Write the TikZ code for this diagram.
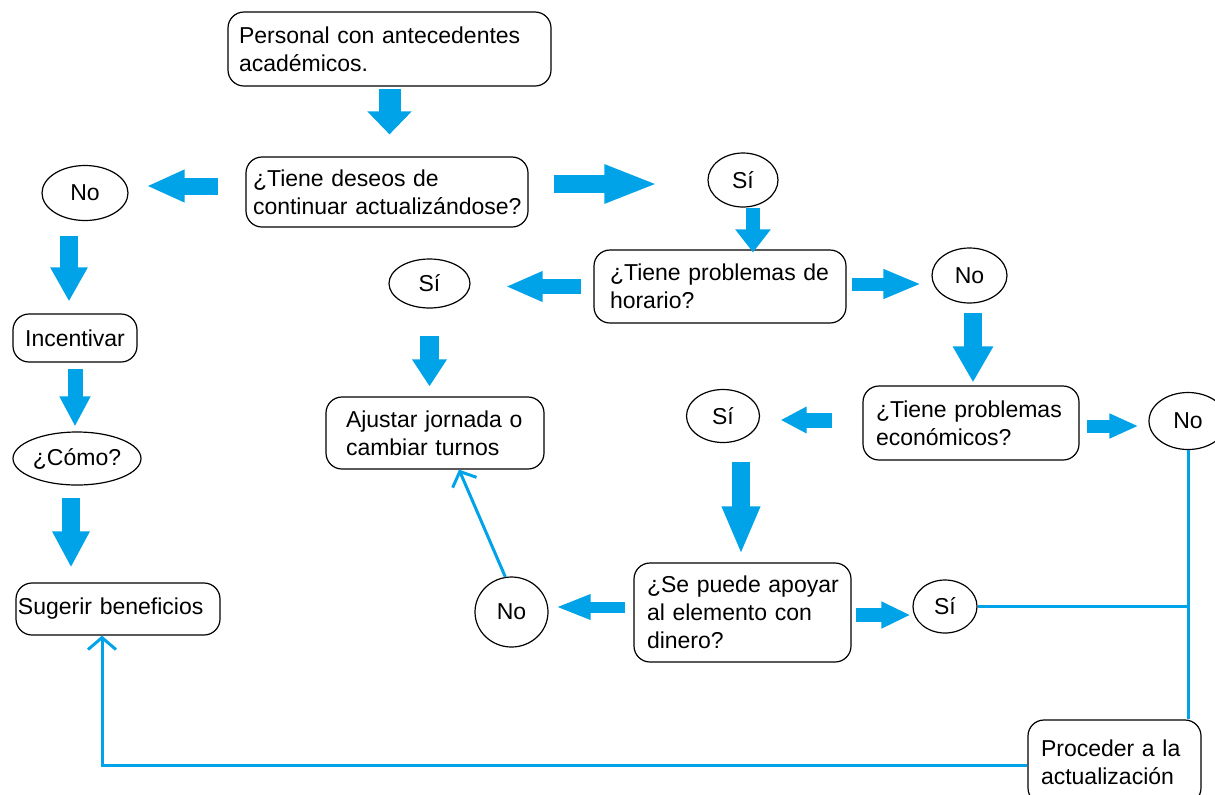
\documentclass[tikz,border=0pt]{standalone}
\usepackage{fontspec}
\setmainfont{Liberation Sans}
\usetikzlibrary{arrows.meta,shapes.geometric}
\definecolor{paintblue}{RGB}{0,162,232}
\hyphenpenalty=10000
\exhyphenpenalty=10000

\begin{document}
\begin{tikzpicture}[x=0.5pt,y=-0.5pt,
    every node/.style={font=\fontsize{11.5}{14}\selectfont},
    box/.style={draw, line width=0.6pt, rounded corners=8pt, align=left},
    oval/.style={draw, line width=0.6pt, ellipse, inner sep=0pt},
    blk/.style n args={3}{draw=paintblue, line width=#1, -{Triangle[width=#2,length=#3]}},
    lnk/.style={draw=paintblue, line width=1.5pt}]
    \useasboundingbox (0,0) rectangle (1215,794);

    \node[box, inner xsep=5.5pt, text width=150.5pt, minimum height=37pt] (ini) at (389.5,49) {Personal con antecedentes\\académicos.};
    \node[box, inner xsep=3.5pt, text width=134pt, minimum height=35pt] (q1) at (387,192) {¿Tiene deseos de\\\mbox{continuar actualizándose?}};
    \node[box, inner xsep=8pt, text width=110pt, minimum height=36.5pt] (q2) at (720,286.5) {¿Tiene problemas de\\horario?};
    \node[box, inner xsep=10pt, text width=89pt, minimum height=36pt] (aju) at (435,433) {Ajustar jornada o\\cambiar turnos};
    \node[box, inner xsep=6.5pt, text width=95pt, minimum height=37pt] (q3) at (971,423) {¿Tiene problemas\\económicos?};
    \node[box, inner xsep=6.5pt, text width=95.5pt, minimum height=49.5pt] (q4) at (742.5,612.5) {\mbox{¿Se puede apoyar}\\al elemento con\\dinero?};
    \node[box, inner xsep=6.5pt, text width=73.5pt, minimum height=42pt] (fin) at (1114.5,762) {Proceder a la\\actualización};
    \node[box, align=center, minimum width=62pt, minimum height=24pt] (inc) at (75,338) {Incentivar};
    \node[box, inner xsep=1pt, text width=100pt, minimum height=26pt] (sug) at (118,609) {Sugerir beneficios};

    \node[oval, minimum width=43pt, minimum height=27.5pt] (no1) at (85,193) {No};
    \node[oval, minimum width=35pt, minimum height=27pt] (si1) at (743,180) {Sí};
    \node[oval, minimum width=40.5pt, minimum height=24.5pt] (si2) at (429.5,283.5) {Sí};
    \node[oval, minimum width=37.5pt, minimum height=27.5pt] (no2) at (969.5,275.5) {No};
    \node[oval, minimum width=36.5pt, minimum height=26.5pt] (si3) at (723,416) {Sí};
    \node[oval, minimum width=39pt, minimum height=28.5pt] (no3) at (1188,421) {No};
    \node[oval, minimum width=64pt, minimum height=26.5pt] (como) at (77,458.5) {¿Cómo?};
    \node[oval, minimum width=36.5pt, minimum height=35pt] (no4) at (511.5,612) {No};
    \node[oval, minimum width=32pt, minimum height=26.5pt] (si4) at (945,606.5) {Sí};

    \coordinate (jn) at (no3.south |- si4.east);

    \draw[blk={11pt}{21.5pt}{11.5pt}, shorten <=1pt, shorten >=11pt] (ini.south) -- (ini.south |- q1.north);
    \draw[blk={8.5pt}{15pt}{19pt}, shorten <=13.5pt, shorten >=9pt] ([yshift=3pt]q1.west) -- ([yshift=3pt]q1.west -| no1.east);
    \draw[blk={9pt}{17.5pt}{27pt}, shorten <=12.5pt, shorten >=24.5pt] ([yshift=4pt]q1.east) -- ([yshift=4pt]q1.east -| si1.west);
    \draw[blk={7pt}{17pt}{11.5pt}, shorten >=-1.5pt] ([xshift=5pt]si1.south) -- ([xshift=5pt]si1.south |- q2.north);
    \draw[blk={7.5pt}{14pt}{18.5pt}, shorten <=6pt, shorten >=17.5pt] (q2.west) -- (q2.west -| si2.east);
    \draw[blk={9.5pt}{16.5pt}{13.5pt}, shorten <=13.5pt, shorten >=5pt] (si2.south) -- (si2.south |- aju.north);
    \draw[blk={6.5pt}{13.5pt}{19pt}, shorten <=2.5pt, shorten >=5pt] ([yshift=1.25pt]q2.east) -- ([yshift=1.25pt]q2.east -| no2.west);
    \draw[blk={9pt}{19pt}{18pt}, shorten <=4.5pt, shorten >=1.5pt] ([xshift=1.75pt]no2.south) -- ([xshift=1.75pt]no2.south |- q3.north);
    \draw[blk={7.5pt}{12.5pt}{13pt}, shorten <=15pt, shorten >=10.25pt] ([yshift=1.5pt]q3.west) -- ([yshift=1.5pt]q3.west -| si3.east);
    \draw[blk={6.5pt}{11.5pt}{14.5pt}, shorten <=3.5pt, shorten >=5pt] ([yshift=-1.5pt]q3.east) -- ([yshift=-1.5pt]q3.east -| no3.west);
    \draw[blk={9pt}{17.5pt}{24pt}, shorten <=9.25pt, shorten >=4pt] ([xshift=9pt]si3.south) -- ([xshift=9pt]si3.south |- q4.north);
    \draw[blk={5.5pt}{11.5pt}{17.5pt}, shorten <=4pt, shorten >=3.5pt] ([yshift=2.75pt]q4.west) -- ([yshift=2.75pt]q4.west -| no4.east);
    \draw[blk={7pt}{12.5pt}{14.5pt}, shorten <=2pt, shorten >=1pt] ([yshift=-1.25pt]q4.east) -- ([yshift=-1.25pt]q4.east -| si4.west);
    \draw[blk={9pt}{17.5pt}{17pt}, shorten <=7.25pt, shorten >=6pt] ([xshift=-8pt]no1.south) -- ([xshift=-8pt]no1.south |- inc.north);
    \draw[blk={7.5pt}{14.5pt}{15pt}, shorten <=3pt, shorten >=2.5pt] (inc.south) -- (inc.south |- como.north);
    \draw[blk={9pt}{17.5pt}{18pt}, shorten <=6pt, shorten >=7.5pt] ([xshift=-3pt]como.south) -- ([xshift=-3pt]como.south |- sug.north);

    \draw[lnk, -{Straight Barb[length=6pt,width=13pt]}] (no4.100) -- ([xshift=12pt]aju.south);
    \draw[lnk] (si4.east) -- (jn);
    \draw[lnk] (no3.south) -- (no3.south |- fin.north);
    \draw[lnk, -{Straight Barb[length=6pt,width=14pt]}] ([yshift=-1.5pt]fin.west) -| ([xshift=-8pt]sug.south);
\end{tikzpicture}
\end{document}
